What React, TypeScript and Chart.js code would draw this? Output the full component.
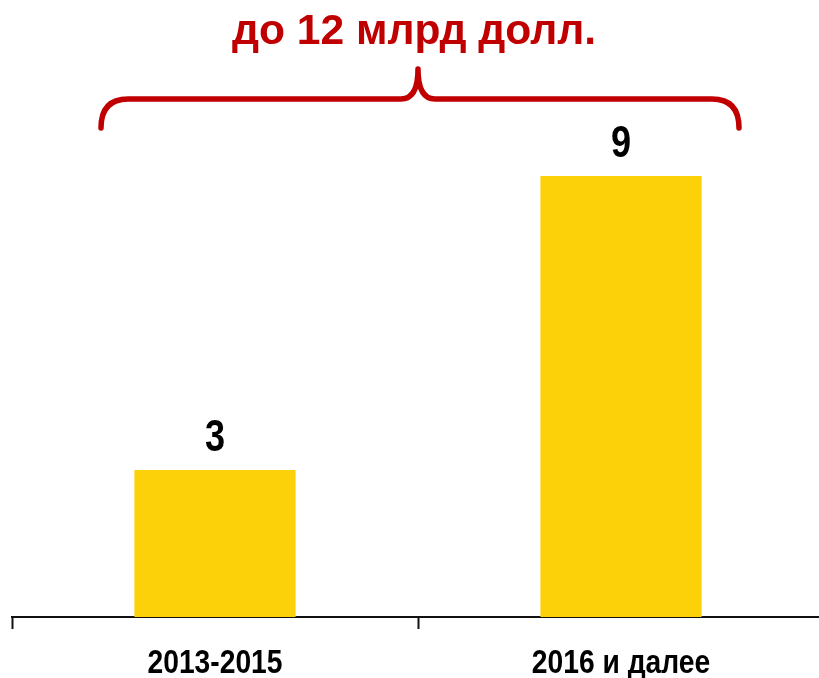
import React, { useEffect, useRef } from "react";
import { Chart, registerables } from "chart.js";

Chart.register(...registerables);

const categories = ["2013-2015", "2016 и далее"];
const values = [3, 9];
const titleText = "до 12 млрд долл.";

const BAR_COLOR = "#FCD10A";
const RED = "#C00000";
const FONT = "'Liberation Sans', Arial, sans-serif";

function condensedText(ctx: any, text: string, x: number, y: number, sx: number) {
  ctx.save();
  ctx.translate(x, y);
  ctx.scale(sx, 1);
  ctx.fillText(text, 0, 0);
  ctx.restore();
}

const overlayPlugin = {
  id: "overlay",
  afterDatasetsDraw(chart: any) {
    const ctx = chart.ctx;
    const meta = chart.getDatasetMeta(0);
    const xs = chart.scales.x;
    ctx.save();
    ctx.textAlign = "center";
    ctx.textBaseline = "alphabetic";
    // value labels
    ctx.fillStyle = "#000";
    ctx.font = `bold 44px ${FONT}`;
    meta.data.forEach((bar: any, i: number) => {
      condensedText(ctx, String(values[i]), bar.x, bar.y - 19, 0.82);
    });
    // category labels
    ctx.font = `bold 34px ${FONT}`;
    categories.forEach((c, i) => {
      condensedText(ctx, c, xs.getPixelForValue(i), 673, 0.83);
    });
    // brace
    const left = meta.data[0].x - 114;
    const right = meta.data[1].x + 118;
    const mid = (xs.left + xs.right) / 2;
    const yEnd = 128;
    const yH = 99;
    const yTip = 69;
    const r = 27;
    const rc = 17;
    ctx.strokeStyle = RED;
    ctx.lineWidth = 5.5;
    ctx.lineCap = "round";
    ctx.lineJoin = "round";
    ctx.beginPath();
    ctx.moveTo(left, yEnd);
    ctx.quadraticCurveTo(left, yH, left + r, yH);
    ctx.lineTo(mid - rc, yH);
    ctx.quadraticCurveTo(mid, yH, mid, yTip);
    ctx.quadraticCurveTo(mid, yH, mid + rc, yH);
    ctx.lineTo(right - r, yH);
    ctx.quadraticCurveTo(right, yH, right, yEnd);
    ctx.stroke();
    // title
    ctx.fillStyle = RED;
    ctx.font = `bold 43px ${FONT}`;
    condensedText(ctx, titleText, mid - 4, 44, 0.99);
    ctx.restore();
  },
};

export default function App() {
  const ref = useRef<HTMLCanvasElement>(null);
  useEffect(() => {
    document.body.style.margin = "0";
    document.body.style.overflow = "hidden";
    const chart = new Chart(ref.current!, {
      type: "bar",
      data: {
        labels: categories,
        datasets: [
          {
            data: values,
            backgroundColor: BAR_COLOR,
            borderWidth: 0,
            barPercentage: 0.397,
            categoryPercentage: 1,
          },
        ],
      },
      options: {
        animation: false,
        responsive: false,
        layout: { padding: { top: 29, left: 12, right: 1, bottom: 0 } },
        plugins: { legend: { display: false }, tooltip: { enabled: false } },
        scales: {
          x: {
            offset: true,
            grid: {
              offset: true,
              drawOnChartArea: false,
              drawTicks: true,
              tickLength: 12,
              tickWidth: 2,
              tickColor: "#111",
            },
            border: { display: true, color: "#111", width: 2 },
            ticks: {
              color: "rgba(0,0,0,0)",
              font: { family: FONT, size: 20, weight: "bold" },
              padding: 14,
              maxRotation: 0,
              autoSkip: false,
            },
            afterFit(scale: any) {
              scale.height = 61;
            },
          },
          y: {
            display: false,
            min: 0,
            max: 12,
          },
        },
      },
      plugins: [overlayPlugin],
    });
    return () => chart.destroy();
  }, []);
  return (
    <div style={{ width: 819, height: 678, overflow: "hidden" }}>
      <canvas ref={ref} width={825} height={678} style={{ display: "block" }} />
    </div>
  );
}
